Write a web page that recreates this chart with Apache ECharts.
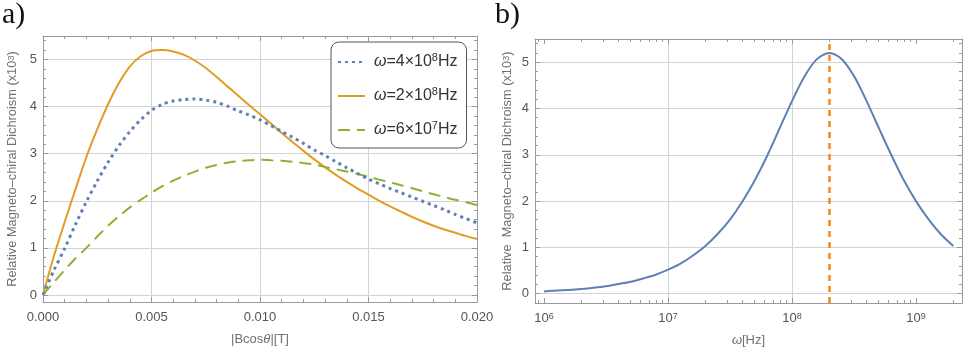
<!DOCTYPE html>
<html>
<head>
<meta charset="utf-8">
<title>Magneto-chiral dichroism</title>
<script src="https://cdn.jsdelivr.net/npm/echarts@6/dist/echarts.min.js"></script>
<style>
  html, body { margin: 0; padding: 0; background: #fff; }
  #chart { width: 969px; height: 355px; }
</style>
</head>
<body>
<div id="chart"></div>
<script>
// panel a) : MCD against |B cos(theta)| for three frequencies
const bField = [0, 0.0005, 0.001, 0.0015, 0.002, 0.0025, 0.003, 0.0035, 0.004, 0.0045,
  0.005, 0.0055, 0.006, 0.0065, 0.007, 0.0075, 0.008, 0.0085, 0.009, 0.0095,
  0.010, 0.0105, 0.011, 0.0115, 0.012, 0.0125, 0.013, 0.0135, 0.014, 0.0145,
  0.015, 0.0155, 0.016, 0.0165, 0.017, 0.0175, 0.018, 0.0185, 0.019, 0.0195, 0.020]
const mcdOmega4e8 = [0, 0.52, 0.99, 1.50, 1.98, 2.42, 2.82, 3.17, 3.47, 3.72,
  3.92, 4.05, 4.12, 4.15, 4.16, 4.14, 4.09, 4.01, 3.91, 3.82,
  3.72, 3.60, 3.47, 3.35, 3.22, 3.08, 2.96, 2.83, 2.70, 2.58,
  2.46, 2.36, 2.26, 2.17, 2.08, 1.99, 1.90, 1.81, 1.71, 1.62, 1.53]
const mcdOmega2e8 = [0, 0.82, 1.55, 2.25, 2.93, 3.52, 4.05, 4.50, 4.85, 5.07,
  5.18, 5.20, 5.17, 5.10, 4.98, 4.82, 4.63, 4.43, 4.23, 4.03,
  3.84, 3.64, 3.44, 3.25, 3.06, 2.88, 2.71, 2.55, 2.40, 2.26,
  2.13, 2.00, 1.88, 1.77, 1.66, 1.56, 1.47, 1.39, 1.32, 1.25, 1.19]
const mcdOmega6e7 = [0, 0.27, 0.53, 0.78, 1.00, 1.24, 1.47, 1.67, 1.86, 2.02,
  2.17, 2.31, 2.43, 2.53, 2.62, 2.70, 2.76, 2.81, 2.84, 2.86,
  2.87, 2.86, 2.85, 2.83, 2.80, 2.77, 2.72, 2.67, 2.62, 2.57,
  2.51, 2.45, 2.39, 2.33, 2.27, 2.20, 2.14, 2.08, 2.02, 1.97, 1.91]
const seriesNames = ['omega4e8', 'omega2e8', 'omega6e7']
const legendTexts = ['{w|ω}=4×10{sup|8}Hz', '{w|ω}=2×10{sup|8}Hz', '{w|ω}=6×10{sup|7}Hz']

// panel b) : MCD against frequency (log axis)
const omegaHz = [1.00e6, 1.26e6, 1.58e6, 2.00e6, 2.51e6, 3.16e6, 3.98e6, 5.01e6, 6.31e6, 7.94e6,
  1.00e7, 1.26e7, 1.58e7, 2.00e7, 2.51e7, 3.16e7, 3.98e7, 5.01e7, 6.31e7, 7.94e7,
  1.00e8, 1.26e8, 1.58e8, 2.00e8, 2.51e8, 3.16e8, 3.98e8, 5.01e8, 6.31e8, 7.94e8,
  1.00e9, 1.26e9, 1.58e9, 2.00e9]
const mcdVsOmega = [0.05, 0.07, 0.08, 0.10, 0.13, 0.16, 0.21, 0.26, 0.33, 0.41,
  0.52, 0.65, 0.82, 1.03, 1.29, 1.60, 1.99, 2.45, 2.98, 3.57,
  4.16, 4.69, 5.06, 5.20, 5.07, 4.70, 4.17, 3.58, 3.00, 2.46,
  2.00, 1.61, 1.29, 1.03]
const peakOmega = [2e8]
const omegaDecades = [6, 7, 8, 9]

const fontFamily = '"Liberation Sans", Arial, sans-serif'
const frameColor = '#9a9a9a'
const gridColor = '#d3d3d3'
const labelColor = '#555'
const colors = ['#5e81b5', '#e19c24', '#8fb032']

const logMin = 5.927
const logMax = 9.371
const minorLog = []
for (let n = 5; n <= 9; n++) {
  for (let k = 2; k <= 9; k++) {
    const v = n + Math.log10(k)
    if (v > logMin && v < logMax) minorLog.push(v)
  }
}

const chart = echarts.init(document.getElementById('chart'))

const supRich = {
  sup: { fontSize: 9, lineHeight: 9, verticalAlign: 'top', fontFamily: fontFamily, color: labelColor }
}
const nameSupRich = {
  sup: { fontSize: 9.5, lineHeight: 9.5, verticalAlign: 'top', fontFamily: fontFamily, color: '#707070' }
}

// 框线上的刻度（无标签）
function frameAxis(gridIndex, position, min, max, extra) {
  return Object.assign({
    type: 'value',
    gridIndex: gridIndex,
    position: position,
    min: min,
    max: max,
    axisLine: { show: true, onZero: false, lineStyle: { color: frameColor, width: 1 } },
    axisTick: { show: true, inside: true, length: 5, lineStyle: { color: frameColor } },
    minorTick: { show: false },
    axisLabel: { show: false },
    splitLine: { show: false }
  }, extra || {})
}

const intLabel = v => (Math.abs(v - Math.round(v)) < 1e-6 ? String(Math.round(v)) : '')

const yName = {
  name: 'Relative Magneto–chiral Dichroism (x10{sup|3})',
  nameLocation: 'middle',
  nameGap: 24,
  nameTextStyle: { color: '#707070', fontSize: 12.8, fontFamily: fontFamily, rich: nameSupRich }
}

const option = {
  animation: false,
  textStyle: { fontFamily: fontFamily },
  grid: [
    { left: 43, top: 36, width: 434, height: 266 },
    { left: 535, top: 39, width: 427, height: 264 }
  ],
  graphic: [
    { type: 'text', left: 2, top: 0, style: { text: 'a)', font: '30px "Liberation Serif", serif', fill: '#111' } },
    { type: 'text', left: 495, top: 0, style: { text: 'b)', font: '30px "Liberation Serif", serif', fill: '#111' } }
  ],
  legend: {
    data: seriesNames,
    orient: 'vertical',
    left: 331,
    top: 42,
    padding: [10, 9, 8, 6],
    itemGap: 14,
    itemWidth: 27,
    itemHeight: 10,
    borderColor: '#555',
    borderWidth: 1,
    borderRadius: 8,
    backgroundColor: '#fff',
    itemStyle: { color: 'rgba(0,0,0,0)', borderColor: 'rgba(0,0,0,0)', borderWidth: 0 },
    formatter: name => legendTexts[seriesNames.indexOf(name)],
    textStyle: {
      fontSize: 16,
      color: '#333',
      fontFamily: fontFamily,
      lineHeight: 20,
      padding: [0, 0, 0, 4],
      rich: {
        w: { fontSize: 16, fontStyle: 'italic', color: '#333', fontFamily: fontFamily },
        sup: { fontSize: 11, lineHeight: 11, verticalAlign: 'top', color: '#333', fontFamily: fontFamily }
      }
    }
  },
  xAxis: [
    frameAxis(0, 'bottom', 0, 0.02, {
      minorTick: { show: true, splitNumber: 5, length: 3, lineStyle: { color: frameColor } },
      axisLabel: { show: true, color: labelColor, fontSize: 13, margin: 9, formatter: v => v.toFixed(3) },
      splitLine: { show: true, showMinLine: false, showMaxLine: false, lineStyle: { color: gridColor } },
      name: '|Bcos{t|θ}|[T]',
      nameLocation: 'middle',
      nameGap: 31,
      nameTextStyle: { color: '#707070', fontSize: 13, fontFamily: fontFamily, rich: { t: { fontStyle: 'italic', fontSize: 13, color: '#707070' } } }
    }),
    frameAxis(0, 'top', 0, 0.02, {
      minorTick: { show: true, splitNumber: 5, length: 3, lineStyle: { color: frameColor } }
    }),
    frameAxis(1, 'bottom', logMin, logMax, {
      splitNumber: 3,
      axisTick: { show: true, inside: true, length: 5, customValues: omegaDecades, lineStyle: { color: frameColor } },
      axisLabel: {
        show: true, color: labelColor, fontSize: 13, margin: 9,
        customValues: omegaDecades,
        formatter: v => '10{sup|' + Math.round(v) + '}',
        rich: supRich
      },
      splitLine: { show: true, showMinLine: false, showMaxLine: false, lineStyle: { color: gridColor } },
      name: '{w|ω}[Hz]',
      nameLocation: 'middle',
      nameGap: 31,
      nameTextStyle: { color: '#707070', fontSize: 13, fontFamily: fontFamily, rich: { w: { fontStyle: 'italic', fontSize: 13, color: '#707070' } } }
    }),
    frameAxis(1, 'bottom', logMin, logMax, {
      axisLine: { show: false, onZero: false },
      axisTick: { show: true, inside: true, length: 3, customValues: minorLog, lineStyle: { color: frameColor } }
    }),
    frameAxis(1, 'top', logMin, logMax, {
      splitNumber: 3,
      axisTick: { show: true, inside: true, length: 5, customValues: omegaDecades, lineStyle: { color: frameColor } }
    }),
    frameAxis(1, 'top', logMin, logMax, {
      axisLine: { show: false, onZero: false },
      axisTick: { show: true, inside: true, length: 3, customValues: minorLog, lineStyle: { color: frameColor } }
    })
  ],
  yAxis: [
    frameAxis(0, 'left', -0.15, 5.5, Object.assign({
      minorTick: { show: true, splitNumber: 5, length: 3, lineStyle: { color: frameColor } },
      axisLabel: { show: true, color: labelColor, fontSize: 13, margin: 6, formatter: intLabel },
      splitLine: { show: true, showMinLine: false, showMaxLine: false, lineStyle: { color: gridColor } }
    }, yName)),
    frameAxis(0, 'right', -0.15, 5.5, {
      minorTick: { show: true, splitNumber: 5, length: 3, lineStyle: { color: frameColor } }
    }),
    frameAxis(1, 'left', -0.2, 5.5, Object.assign({
      minorTick: { show: true, splitNumber: 5, length: 3, lineStyle: { color: frameColor } },
      axisLabel: { show: true, color: labelColor, fontSize: 13, margin: 6, formatter: intLabel },
      splitLine: { show: true, showMinLine: false, showMaxLine: false, lineStyle: { color: gridColor } }
    }, yName, { name: 'Relative  Magneto–chiral Dichroism (x10{sup|3})', nameGap: 21 })),
    frameAxis(1, 'right', -0.2, 5.5, {
      minorTick: { show: true, splitNumber: 5, length: 3, lineStyle: { color: frameColor } }
    })
  ],
  series: [
    {
      name: seriesNames[0], type: 'line', xAxisIndex: 0, yAxisIndex: 0,
      data: bField.map((b, i) => [b, mcdOmega4e8[i]]),
      symbol: 'none', smooth: 0.3, z: 3,
      itemStyle: { color: colors[0] },
      lineStyle: { color: colors[0], width: 3, type: [3, 4] }
    },
    {
      name: seriesNames[1], type: 'line', xAxisIndex: 0, yAxisIndex: 0,
      data: bField.map((b, i) => [b, mcdOmega2e8[i]]),
      symbol: 'none', smooth: 0.3, z: 2,
      itemStyle: { color: colors[1] },
      lineStyle: { color: colors[1], width: 2 }
    },
    {
      name: seriesNames[2], type: 'line', xAxisIndex: 0, yAxisIndex: 0,
      data: bField.map((b, i) => [b, mcdOmega6e7[i]]),
      symbol: 'none', smooth: 0.3, z: 2,
      itemStyle: { color: colors[2] },
      lineStyle: { color: colors[2], width: 2, type: [12, 7] }
    },
    {
      name: 'mcdVsOmega', type: 'line', xAxisIndex: 2, yAxisIndex: 2,
      data: omegaHz.map((w, i) => [Math.log10(w), mcdVsOmega[i]]),
      symbol: 'none', smooth: 0.3,
      itemStyle: { color: colors[0] },
      lineStyle: { color: colors[0], width: 2 },
      markLine: {
        silent: true,
        symbol: 'none',
        label: { show: false },
        lineStyle: { color: '#f5881b', width: 2.5, type: [6, 5] },
        data: peakOmega.map(w => ({ xAxis: Math.log10(w) }))
      }
    }
  ]
}

chart.setOption(option)
</script>
</body>
</html>
